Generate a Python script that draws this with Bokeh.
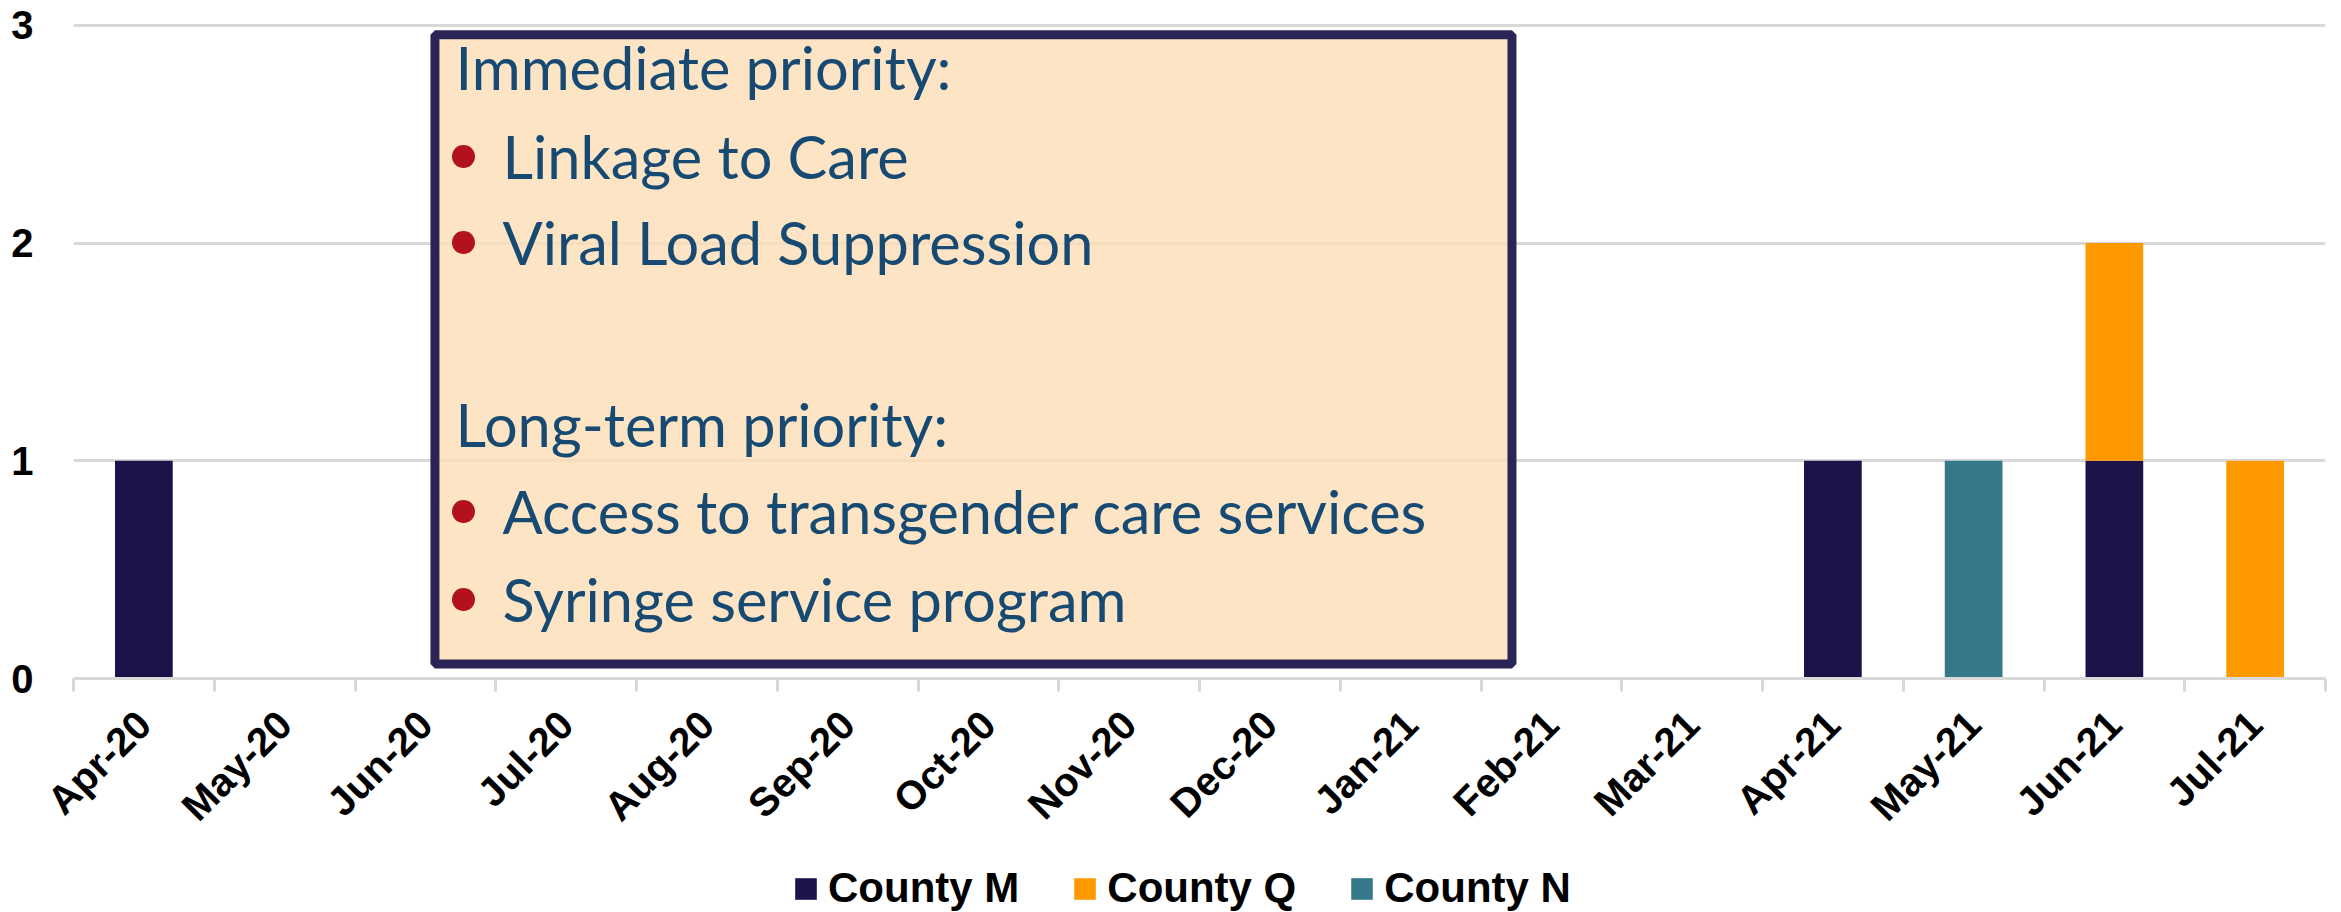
import math
from bokeh.plotting import figure
from bokeh.layouts import column
from bokeh.models import (Range1d, FixedTicker, BoxAnnotation, Label, Legend,
                          LegendItem, ColumnDataSource)
from bokeh.embed import file_html
from bokeh.resources import INLINE

# ---------------- data ----------------
months = ["Apr-20", "May-20", "Jun-20", "Jul-20", "Aug-20", "Sep-20", "Oct-20",
          "Nov-20", "Dec-20", "Jan-21", "Feb-21", "Mar-21", "Apr-21", "May-21",
          "Jun-21", "Jul-21"]
county_m = [1, 0, 0, 0, 0, 0, 0, 0, 0, 0, 0, 0, 1, 0, 1, 0]
county_q = [0, 0, 0, 0, 0, 0, 0, 0, 0, 0, 0, 0, 0, 0, 1, 1]
county_n = [0, 0, 0, 0, 0, 0, 0, 0, 0, 0, 0, 0, 0, 1, 0, 0]
series_names = ["County M", "County Q", "County N"]
series_colors = ["#1c1448", "#ff9900", "#35788a"]
y_ticks = [0, 1, 2, 3]

heading_immediate = "Immediate priority:"
items_immediate = ["Linkage to Care", "Viral Load Suppression"]
heading_longterm = "Long-term priority:"
items_longterm = ["Access to transgender care services", "Syringe service program"]

# ---------------- main figure ----------------
n = len(months)
x_pos = [i + 0.5 for i in range(n)]
src = ColumnDataSource(dict(x=x_pos, **dict(zip(series_names, [county_m, county_q, county_n]))))

W = 2341
MAIN_H = 860
LEG_H = 52

p = figure(width=W, height=MAIN_H, output_backend="svg", toolbar_location=None,
           x_range=Range1d(0, n), y_range=Range1d(0, 3.1),
           min_border_left=73, min_border_right=16, min_border_top=3,
           min_border_bottom=MAIN_H - 678)
p.outline_line_color = None
p.background_fill_color = "white"
p.border_fill_color = "white"

renderers = p.vbar_stack(series_names, x="x", width=0.41, fill_color=series_colors,
                         line_color=None, source=src)

AXIS_FONT = "Liberation Sans"
GRID = "#d9d9d9"

# x axis
xa = p.xaxis[0]
xa.ticker = FixedTicker(ticks=x_pos, minor_ticks=list(range(n + 1)))
xa.major_label_overrides = {x: m for x, m in zip(x_pos, months)}
xa.major_tick_line_color = None
xa.major_tick_out = 13
xa.major_tick_in = 0
xa.minor_tick_line_color = GRID
xa.minor_tick_line_width = 3
xa.minor_tick_out = 13
xa.minor_tick_in = 0
xa.axis_line_color = GRID
xa.axis_line_width = 3
xa.major_label_orientation = math.pi / 4
xa.major_label_standoff = 26
xa.major_label_text_font = AXIS_FONT
xa.major_label_text_font_style = "bold"
xa.major_label_text_font_size = "40px"
xa.major_label_text_color = "black"

# y axis
ya = p.yaxis[0]
ya.ticker = FixedTicker(ticks=y_ticks)
ya.axis_line_color = None
ya.major_tick_line_color = None
ya.minor_tick_line_color = None
ya.major_tick_out = 0
ya.major_tick_in = 0
ya.major_label_standoff = 40
ya.major_label_text_font = AXIS_FONT
ya.major_label_text_font_style = "bold"
ya.major_label_text_font_size = "40px"
ya.major_label_text_color = "black"

p.xgrid.visible = False
p.ygrid.grid_line_color = GRID
p.ygrid.grid_line_width = 3

# ---------------- annotation box ----------------
box = BoxAnnotation(left=2.568, right=10.22, bottom=0.067, top=2.956,
                    fill_color="#fbddb5", fill_alpha=0.8,
                    line_color="#2b2557", line_width=9, line_alpha=1.0)
p.add_layout(box)

TEXT_FONT = "Lato"
TEXT_COLOR = "#174a72"
TEXT_SIZE = "59.5px"
BULLET_COLOR = "#b3111b"
SHIFT = 0.10

def add_text(x, y, txt):
    p.add_layout(Label(x=x, y=y + SHIFT, text=txt, text_font=TEXT_FONT,
                       text_font_size=TEXT_SIZE, text_color=TEXT_COLOR,
                       text_baseline="alphabetic", text_align="left"))

def add_bullet(x, y):
    p.add_layout(Label(x=x, y=y + SHIFT + 0.02, text="\u2022", text_font=TEXT_FONT,
                       text_font_size="62px", text_color=BULLET_COLOR,
                       text_baseline="alphabetic", text_align="center"))

head_x, item_x, bullet_x = 2.714, 3.048, 2.771
add_text(head_x, 2.710, heading_immediate)
for yb, t in zip([2.301, 1.906], items_immediate):
    add_bullet(bullet_x, yb)
    add_text(item_x, yb, t)
add_text(head_x, 1.070, heading_longterm)
for yb, t in zip([0.671, 0.266], items_longterm):
    add_bullet(bullet_x, yb)
    add_text(item_x, yb, t)

# ---------------- legend (own strip below the chart) ----------------
# the same stacked bars are drawn here but kept outside the visible y-range,
# so only their legend swatches show
lf = figure(width=W, height=LEG_H, output_backend="svg", toolbar_location=None,
            x_range=Range1d(0, n), y_range=Range1d(100, 101),
            x_axis_type=None, y_axis_type=None,
            min_border_left=0, min_border_right=0, min_border_top=0, min_border_bottom=0)
lf.outline_line_color = None
lf.xgrid.visible = False
lf.ygrid.visible = False
leg_renderers = lf.vbar_stack(series_names, x="x", width=0.41, fill_color=series_colors,
                              line_color=None, source=src)
legend = Legend(items=[LegendItem(label=nm, renderers=[r])
                       for nm, r in zip(series_names, leg_renderers)],
                orientation="horizontal", location=(719, 0),
                label_text_font=AXIS_FONT, label_text_font_style="bold",
                label_text_font_size="42px", label_text_color="black",
                glyph_width=27, glyph_height=27, label_standoff=9, spacing=52,
                padding=0, margin=0, border_line_color=None, background_fill_alpha=0)
lf.add_layout(legend)

layout = column(p, lf, spacing=0)
open("out.html", "w").write(file_html(layout, INLINE))
